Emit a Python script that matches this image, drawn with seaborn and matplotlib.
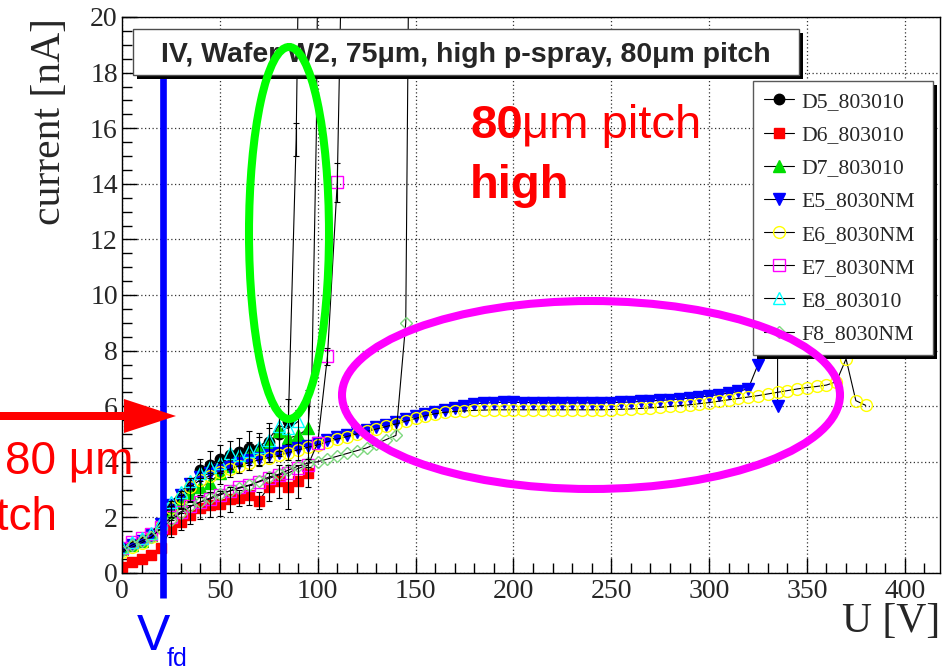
import matplotlib
matplotlib.use("Agg")
import matplotlib.pyplot as plt
import pandas as pd
import seaborn as sns
from matplotlib.patches import Ellipse, Rectangle, FancyArrow
from matplotlib.transforms import Affine2D, IdentityTransform
from matplotlib.ticker import MultipleLocator

# ---------------- measured IV curves (U in V, I in nA) ----------------
d5_u = [0, 5, 10, 15, 20, 25, 30, 35, 40, 45, 50, 55, 60, 65, 70, 75, 80, 85, 89, 91]
d5_i = [0.85, 1.05, 1.2, 1.4, 1.8, 2.3, 2.65, 3.0, 3.7, 3.9, 4.1, 4.25, 4.35, 4.5, 4.45, 4.7, 5.0,
        5.45, 15.6, 26.0]
d5_err = [0, 0, 0, 0, 0, 0.3, 0.3, 0.4, 0.4, 0.5, 0.5, 0.5, 0.5, 0.6, 0.6, 0.7, 0.8, 0.8, 0.6, 0]

d6_u = [0, 5, 10, 15, 20, 25, 30, 35, 40, 45, 50, 55, 60, 65, 70, 75, 80, 85, 90, 95]
d6_i = [0.22, 0.38, 0.52, 0.66, 0.9, 1.6, 1.85, 2.1, 2.35, 2.45, 2.5, 2.65, 2.7, 2.8, 2.6, 3.1,
        3.3, 3.1, 3.3, 3.6]
d6_err = [0, 0, 0, 0, 0, 0.3, 0.3, 0.35, 0.4, 0.45, 0.45, 0.45, 0.3, 0.35, 0.3, 0.5, 0.6, 0.8,
          0.6, 0.5]

d7_u = [0, 5, 10, 15, 20, 25, 30, 35, 40, 45, 50, 55, 60, 65, 70, 75, 80, 85, 90, 95, 97, 99.3,
        100.5]
d7_i = [0.85, 1.0, 1.15, 1.35, 1.75, 2.2, 2.55, 2.85, 3.1, 3.25, 3.6, 3.85, 4.05, 4.2, 4.4, 4.6,
        5.1, 4.85, 4.95, 5.2, 7.0, 15.8, 26.0]
d7_err = [0, 0, 0, 0, 0, 0.2, 0.25, 0.3, 0.3, 0.35, 0.4, 0.4, 0.45, 0.5, 0.5, 0.6, 0.7, 0.8, 0.9,
          1.4, 0, 0, 0]

e5_u = [0, 5, 10, 15, 20, 25, 30, 35, 40, 45, 50, 55, 60, 65, 70, 75, 80, 85, 90, 95, 100, 105,
        110, 115, 120, 125, 130, 135, 140, 145, 150, 155, 160, 165, 170, 175, 180, 185, 190, 195,
        200, 205, 210, 215, 220, 225, 230, 235, 240, 245, 250, 255, 260, 265, 270, 275, 280, 285,
        290, 295, 300, 305, 310, 315, 320, 325, 325, 335, 335]
e5_i = [0.85, 1.0, 1.15, 1.35, 1.75, 2.45, 2.8, 3.2, 3.45, 3.6, 3.7, 3.82, 3.94, 4.05, 4.15, 4.23,
        4.3, 4.4, 4.5, 4.58, 4.67, 4.78, 4.88, 4.97, 5.06, 5.15, 5.25, 5.33, 5.42, 5.53, 5.64,
        5.73, 5.8, 5.87, 5.95, 6.02, 6.08, 6.11, 6.13, 6.14, 6.14, 6.13, 6.13, 6.12, 6.12, 6.12,
        6.12, 6.12, 6.12, 6.12, 6.13, 6.14, 6.15, 6.17, 6.19, 6.21, 6.23, 6.26, 6.29, 6.33, 6.37,
        6.42, 6.47, 6.53, 6.63, 7.5, 16.0, 16.0, 6.0]

e6_u = [0, 5, 10, 15, 20, 25, 30, 35, 40, 45, 50, 55, 60, 65, 70, 75, 80, 85, 90, 95, 100, 105,
        110, 115, 120, 125, 130, 135, 140, 145, 150, 155, 160, 165, 170, 175, 180, 185, 190, 195,
        200, 205, 210, 215, 220, 225, 230, 235, 240, 245, 250, 255, 260, 265, 270, 275, 280, 285,
        290, 295, 300, 305, 310, 315, 320, 325, 330, 335, 340, 345, 350, 355, 360, 365, 370, 375,
        380]
e6_i = [0.75, 0.92, 1.08, 1.28, 1.68, 2.35, 2.7, 3.1, 3.35, 3.5, 3.62, 3.74, 3.86, 3.97, 4.07,
        4.15, 4.23, 4.33, 4.43, 4.52, 4.61, 4.72, 4.82, 4.91, 5.0, 5.09, 5.18, 5.27, 5.36, 5.46,
        5.56, 5.66, 5.73, 5.78, 5.81, 5.83, 5.85, 5.86, 5.87, 5.87, 5.87, 5.87, 5.87, 5.87, 5.87,
        5.87, 5.87, 5.87, 5.87, 5.87, 5.88, 5.89, 5.9, 5.92, 5.94, 5.96, 5.99, 6.02, 6.05, 6.09,
        6.13, 6.18, 6.23, 6.28, 6.33, 6.38, 6.44, 6.5, 6.56, 6.62, 6.67, 6.71, 6.76, 6.88, 7.7,
        6.2, 6.03]

e7_u = [0, 5, 10, 15, 20, 25, 30, 35, 40, 45, 50, 55, 60, 65, 70, 75, 80, 85, 90, 95, 100, 105,
        110, 113.3]
e7_i = [0.9, 1.1, 1.25, 1.4, 1.65, 2.0, 2.2, 2.4, 2.56, 2.66, 2.8, 2.95, 3.08, 3.16, 3.28, 3.4,
        3.52, 3.6, 3.76, 3.88, 4.67, 7.8, 14.05, 26.0]
e7_err = [0] * 21 + [0.3, 0.7, 0]

e8_u = [0, 5, 10, 15, 20, 25, 30, 35, 40, 45, 50, 55, 60, 65, 70, 75, 80, 85, 90]
e8_i = [0.95, 1.1, 1.25, 1.45, 1.85, 2.55, 2.9, 3.3, 3.6, 3.8, 3.95, 4.3, 4.25, 4.4, 4.55, 4.8,
        5.3, 5.2, 5.45]

f8_u = [0, 5, 10, 15, 20, 25, 30, 35, 40, 45, 50, 55, 60, 65, 70, 75, 80, 85, 90, 95, 100, 105,
        110, 115, 120, 125, 130, 135, 140, 145, 147]
f8_i = [0.8, 1.0, 1.15, 1.3, 1.6, 1.9, 2.15, 2.4, 2.55, 2.7, 2.85, 2.95, 3.05, 3.15, 3.3, 3.45,
        3.55, 3.7, 3.85, 3.95, 4.0, 4.1, 4.2, 4.3, 4.4, 4.5, 4.65, 4.8, 4.95, 9.0, 26.0]

u_fd = 20.8  # full depletion voltage

# ---------------- figure ----------------
W, H = 949, 669
sns.set_style("white")
plt.rcParams["font.family"] = ["Liberation Serif", "DejaVu Serif"]

fig = plt.figure(figsize=(W / 100, H / 100), dpi=100)
ax = fig.add_axes([122 / W, 1 - 573 / H, 818 / W, 556 / H])
px = Affine2D().scale(1, -1).translate(0, H)  # pixel coordinates, origin top-left

# breakdown samples past the current jump carry no marker
e5_marked = [j for j in range(len(e5_u)) if e5_i[j] < 10]
series = [
    ("D5_803010", d5_u, d5_i, d5_err, list(range(18)),
     dict(marker="o", markerfacecolor="black", markeredgecolor="black", markersize=7.5)),
    ("D6_803010", d6_u, d6_i, d6_err, None,
     dict(marker="s", markerfacecolor="#ff0000", markeredgecolor="#ff0000", markersize=7.5)),
    ("D7_803010", d7_u, d7_i, d7_err, list(range(20)),
     dict(marker="^", markerfacecolor="#00dd00", markeredgecolor="#00dd00", markersize=8)),
    ("E5_8030NM", e5_u, e5_i, None, e5_marked,
     dict(marker="v", markerfacecolor="#0000ff", markeredgecolor="#0000ff", markersize=8)),
    ("E6_8030NM", e6_u, e6_i, None, None,
     dict(marker="o", markerfacecolor="none", markeredgecolor="#ffff00", markersize=8.5)),
    ("E7_8030NM", e7_u, e7_i, e7_err, None,
     dict(marker="s", markerfacecolor="none", markeredgecolor="#ff00ff", markersize=8)),
    ("E8_803010", e8_u, e8_i, None, None,
     dict(marker="^", markerfacecolor="none", markeredgecolor="#00ffff", markersize=8.5)),
    ("F8_8030NM", f8_u, f8_i, None, None,
     dict(marker="D", markerfacecolor="none", markeredgecolor="#7fd87f", markersize=6.5)),
]

for k, (name, u, i, err, every, mk) in enumerate(series):
    df = pd.DataFrame({"U": u, "I": i})
    sns.lineplot(data=df, x="U", y="I", ax=ax, estimator=None, sort=False, color="black",
                 lw=0.8, label=name, markeredgewidth=1.0, markevery=every,
                 zorder=2 + 0.01 * k, **mk)
    if err is not None:
        sel = [j for j, e in enumerate(err) if e > 0]
        ax.errorbar([u[j] for j in sel], [i[j] for j in sel], yerr=[err[j] for j in sel],
                    fmt="none", ecolor="black", elinewidth=0.8, capsize=2.2, capthick=0.8,
                    zorder=2.5)

ax.set_xlim(0, 418)
ax.set_ylim(0, 20)
ax.set_xlabel("")
ax.set_ylabel("")
ax.xaxis.set_major_locator(MultipleLocator(50))
ax.xaxis.set_minor_locator(MultipleLocator(10))
ax.yaxis.set_major_locator(MultipleLocator(2))
ax.yaxis.set_minor_locator(MultipleLocator(0.5))
ax.tick_params(which="both", direction="in", top=False, right=False, bottom=True, left=True,
               color="black", width=1)
ax.tick_params(which="major", length=11, labelsize=20)
ax.tick_params(which="minor", length=7)
ax.tick_params(axis="x", pad=4)
ax.tick_params(axis="y", pad=3)
ax.grid(True, which="major", linestyle=(0, (1, 2)), color="0.2", lw=0.9)
for sp in ax.spines.values():
    sp.set_color("black")
    sp.set_linewidth(1.0)
    sp.set_visible(True)

# depletion voltage marker
ax.plot([u_fd, u_fd], [17.9, -0.9], color="#0000ff", lw=4.8, clip_on=False, zorder=4,
        solid_capstyle="butt")

# legend with drop shadow
handles, labels = ax.get_legend_handles_labels()
leg = ax.legend(handles, labels, loc="upper left",
                bbox_to_anchor=(753 / W, 1 - 347 / H, 180 / W, 266 / H),
                bbox_transform=fig.transFigure, mode="expand", borderaxespad=0,
                prop={"family": "Liberation Serif", "size": 15.6}, handlelength=1.4,
                handletextpad=0.35, borderpad=0.5, labelspacing=0.6, numpoints=1,
                fancybox=False, framealpha=1, edgecolor="0.35")
# one marker in the middle of every legend key
for hl in leg.get_lines():
    hl.set_markevery([1])
leg.get_frame().set_linewidth(1.0)
leg.set_zorder(5)
fig.canvas.draw()
bb = leg.get_window_extent()
ax.add_artist(Rectangle((bb.x0 + 4, bb.y0 - 4), bb.width, bb.height, transform=IdentityTransform(),
                        facecolor="black", edgecolor="none", zorder=4.9, clip_on=False))

# title pave
fig.add_artist(Rectangle((137, 33), 666, 46, transform=px, facecolor="black", edgecolor="none",
                         zorder=3))
fig.add_artist(Rectangle((133, 29), 666, 46, transform=px, facecolor="white", edgecolor="0.3",
                         lw=1.0, zorder=3.1))
fig.text(466, 62, "IV, Wafer W2, 75μm, high p-spray, 80μm pitch", transform=px,
         ha="center", va="baseline", fontsize=20.5, fontweight="bold",
         family="Liberation Sans", zorder=3.2)

# axis titles
fig.text(50, 18, "current [nA]", transform=px, rotation=90, ha="center", va="top",
         fontsize=30, family="Liberation Serif")
fig.text(940, 622, "U [V]", transform=px, ha="right", va="center", fontsize=30,
         family="Liberation Serif")

# highlight ellipses
fig.add_artist(Ellipse((289, 233), 80, 372, transform=px, fill=False, edgecolor="#00ff00",
                       lw=5.8, zorder=5))
fig.add_artist(Ellipse((591, 395), 498, 188, transform=px, fill=False, edgecolor="#ff00ff",
                       lw=5.8, zorder=5))

# red arrow and annotations
fig.add_artist(FancyArrow(0, 416, 176, 0, width=8, head_width=34, head_length=52,
                          length_includes_head=True, transform=px, color="#ff0000", lw=0,
                          zorder=6))
fig.text(470, 138, "80", transform=px, ha="left", va="baseline", fontsize=34,
         fontweight="bold", family="Liberation Sans", color="#ff0000", zorder=7)
fig.text(522, 138, "μm pitch", transform=px, ha="left", va="baseline", fontsize=34,
         family="Liberation Sans", color="#ff0000", zorder=7)
fig.text(470, 198, "high", transform=px, ha="left", va="baseline", fontsize=34,
         fontweight="bold", family="Liberation Sans", color="#ff0000", zorder=7)
fig.text(5, 474, "80 μm", transform=px, ha="left", va="baseline", fontsize=33,
         family="Liberation Sans", color="#ff0000", zorder=7)
fig.text(-40, 530, "pitch", transform=px, ha="left", va="baseline", fontsize=33,
         family="Liberation Sans", color="#ff0000", zorder=7)

# V_fd label
fig.text(137, 650, "V", transform=px, ha="left", va="baseline", fontsize=36,
         family="Liberation Sans", color="#0000ff", zorder=7)
fig.text(167, 666, "fd", transform=px, ha="left", va="baseline", fontsize=18,
         family="Liberation Sans", color="#0000ff", zorder=7)

fig.savefig("out.png", dpi=100)
